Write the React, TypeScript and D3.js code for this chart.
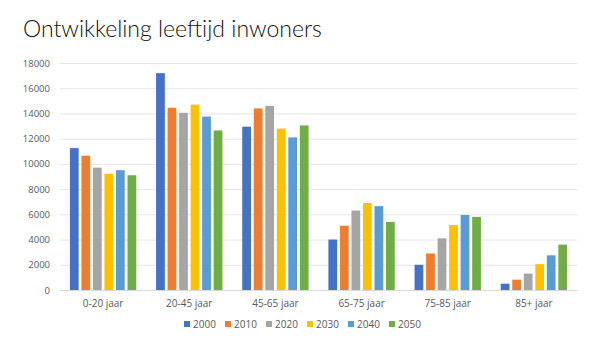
import { useEffect, useRef } from 'react'
import * as d3 from 'd3'

const categories = ['0-20 jaar', '20-45 jaar', '45-65 jaar', '65-75 jaar', '75-85 jaar', '85+ jaar']
const years = ['2000', '2010', '2020', '2030', '2040', '2050']
const colors = ['#4472C4', '#ED7D31', '#A5A5A5', '#FFC000', '#5B9BD5', '#70AD47']
// values per category, one per year
const v0020 = [11250, 10650, 9700, 9200, 9500, 9100]
const v2045 = [17200, 14450, 14050, 14700, 13750, 12650]
const v4565 = [12950, 14400, 14600, 12800, 12100, 13050]
const v6575 = [4000, 5100, 6300, 6900, 6650, 5400]
const v7585 = [2000, 2900, 4100, 5150, 5950, 5800]
const v85 = [500, 820, 1300, 2050, 2750, 3600]
const yTicks = [0, 2000, 4000, 6000, 8000, 10000, 12000, 14000, 16000, 18000]

const W = 589, H = 354

export default function App() {
  const svgRef = useRef<SVGSVGElement>(null)

  useEffect(() => {
    const svg = d3.select(svgRef.current)
    svg.selectAll('*').remove()
    const rows = [v0020, v2045, v4565, v6575, v7585, v85]
    const font = 'Open Sans, sans-serif'

    const left = 60, right = 577, top = 63, bottom = 290
    const x = d3.scaleBand().domain(categories).range([left, right]).paddingInner(0.23).paddingOuter(0.115)
    const xi = d3.scaleBand().domain(years).range([0, x.bandwidth()]).paddingInner(0.24)
    const y = d3.scaleLinear().domain([0, 18000]).range([bottom, top])

    svg.append('text').attr('x', 23).attr('y', 37)
      .attr('font-family', 'Lato, sans-serif').attr('font-weight', 300).attr('font-size', 23)
      .attr('fill', '#111').text('Ontwikkeling leeftijd inwoners')

    const g = svg.append('g')
    g.append('g').attr('transform', `translate(${left},0)`)
      .call(d3.axisLeft(y).tickValues(yTicks).tickSize(-(right - left)).tickPadding(10).tickFormat(d3.format('d')))
      .call(gg => {
        gg.select('.domain').remove()
        gg.selectAll('.tick line').attr('stroke', '#e6e6e6')
        gg.selectAll('.tick text').attr('fill', '#595959').attr('font-size', 9.5).attr('font-family', font)
      })

    g.append('g').attr('transform', `translate(0,${bottom})`)
      .call(d3.axisBottom(x).tickSize(0).tickPadding(10))
      .call(gg => {
        gg.select('.domain').attr('stroke', '#d9d9d9')
        gg.selectAll('.tick text').attr('fill', '#595959').attr('font-size', 10).attr('font-family', font)
      })

    categories.forEach((c, ci) => {
      g.append('g').attr('transform', `translate(${x(c)},0)`)
        .selectAll('rect').data(rows[ci]).join('rect')
        .attr('x', (_, i) => xi(years[i])!)
        .attr('width', xi.bandwidth())
        .attr('y', d => y(d))
        .attr('height', d => bottom - y(d))
        .attr('fill', (_, i) => colors[i])
    })

    const leg = svg.append('g').attr('transform', 'translate(184,324)')
    years.forEach((yr, i) => {
      const lg = leg.append('g').attr('transform', `translate(${i * 41},0)`)
      lg.append('rect').attr('x', 0).attr('y', -3).attr('width', 6).attr('height', 6).attr('fill', colors[i])
      lg.append('text').attr('x', 9).attr('y', 0).attr('dy', '0.35em')
        .attr('font-size', 10).attr('font-family', font).attr('fill', '#595959').text(yr)
    })
  }, [])

  return (
    <div style={{ margin: -8 }}>
      <svg ref={svgRef} width={W} height={H} style={{ display: 'block', background: '#fff' }} />
    </div>
  )
}
